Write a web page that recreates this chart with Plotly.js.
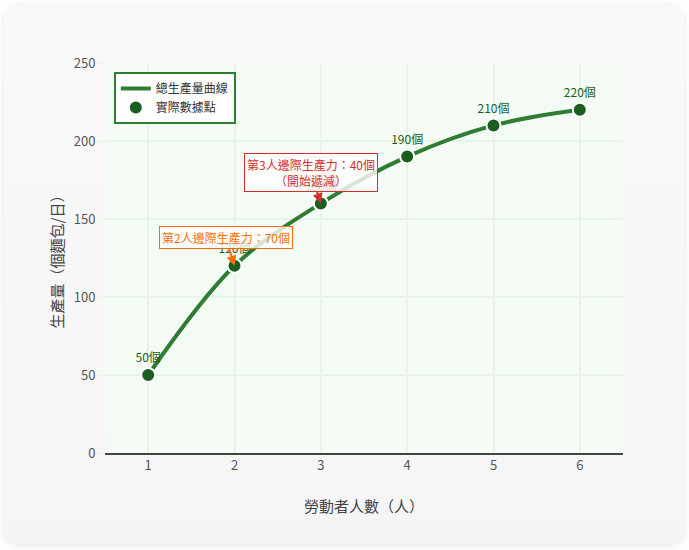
<!DOCTYPE html>
<html>
<head>
<meta charset="utf-8">
<script src="https://cdn.plot.ly/plotly-3.0.1.min.js"></script>
<style>
  html, body { margin: 0; padding: 0; background: #ffffff; width: 689px; height: 550px; overflow: hidden; }
  #card { position: absolute; left: 4px; top: 4px; width: 680px; height: 540px; border-radius: 16px;
          background: linear-gradient(180deg, #f9f9f9 0%, #f5f5f5 100%);
          box-shadow: 0 2px 8px rgba(0,0,0,0.10); }
  #chart { position: absolute; left: 0; top: 0; width: 689px; height: 550px; }
</style>
</head>
<body>
<div id="card"></div>
<div id="chart"></div>
<script>
const workers = [1, 2, 3, 4, 5, 6];
const output = [50, 120, 160, 190, 210, 220];
const outputLabels = ['50個', '120個', '160個', '190個', '210個', '220個'];
const lineName = '總生產量曲線';
const pointName = '實際數據點';
const xTitle = '勞動者人數（人）';
const yTitle = '生產量（個麵包/日）';
const note2 = '第2人邊際生產力：70個';
const note3 = '第3人邊際生產力：40個<br>（開始遞減）';

const font = "'Noto Sans CJK TC', 'Noto Sans', sans-serif";

const traces = [
  {
    x: workers, y: output, name: lineName, type: 'scatter', mode: 'lines',
    line: { color: '#2e7d32', width: 4, shape: 'spline', smoothing: 1 },
    hoverinfo: 'skip'
  },
  {
    x: workers, y: output, name: pointName, type: 'scatter', mode: 'markers+text',
    marker: { color: '#1b5e20', size: 14, line: { color: '#ffffff', width: 2 } },
    text: outputLabels, texttemplate: '%{text}', textposition: 'top center',
    textfont: { size: 12, color: '#1b5e20', family: font }
  }
];

const layout = {
  width: 689, height: 550,
  margin: { l: 105, r: 66, t: 63, b: 97 },
  paper_bgcolor: 'rgba(0,0,0,0)',
  plot_bgcolor: '#f4faf4',
  font: { family: font, color: '#444', size: 13 },
  showlegend: true,
  legend: {
    x: 0.017, y: 0.977, xanchor: 'left', yanchor: 'top',
    bgcolor: '#ffffff', bordercolor: '#2e7d32', borderwidth: 2,
    font: { size: 12, color: '#333', family: font }
  },
  xaxis: {
    range: [0.5, 6.5], tickvals: workers, ticktext: workers.map(String),
    showgrid: true, gridcolor: '#e6f3e6', gridwidth: 1.5,
    showline: true, linecolor: '#444', linewidth: 1.5,
    zeroline: false,
    tickfont: { size: 13, color: '#555' },
    title: { text: xTitle, font: { size: 15, color: '#444' }, standoff: 28 }
  },
  yaxis: {
    range: [0, 250], dtick: 50,
    showgrid: true, gridcolor: '#e6f3e6', gridwidth: 1.5,
    zeroline: false, showline: false,
    ticks: 'outside', ticklen: 6, tickcolor: '#e6f3e6',
    tickfont: { size: 13, color: '#555' },
    title: { text: yTitle, font: { size: 15, color: '#444' }, standoff: 6 }
  },
  annotations: [
    {
      x: 2, y: 120, xref: 'x', yref: 'y', text: note2,
      showarrow: true, arrowhead: 2, arrowsize: 1, arrowwidth: 2, arrowcolor: '#ff6f00',
      ax: -9, ay: -28,
      font: { size: 12, color: '#ff6f00', family: font },
      bgcolor: 'rgba(255,255,255,0.8)', bordercolor: '#ff6f00', borderwidth: 1, borderpad: 2
    },
    {
      x: 3, y: 160, xref: 'x', yref: 'y', text: note3,
      showarrow: true, arrowhead: 2, arrowsize: 1, arrowwidth: 2, arrowcolor: '#d32f2f',
      ax: -10, ay: -31,
      font: { size: 12, color: '#d32f2f', family: font },
      bgcolor: 'rgba(255,255,255,0.8)', bordercolor: '#d32f2f', borderwidth: 1, borderpad: 2
    }
  ]
};

Plotly.newPlot('chart', traces, layout, { displayModeBar: false });
</script>
</body>
</html>
